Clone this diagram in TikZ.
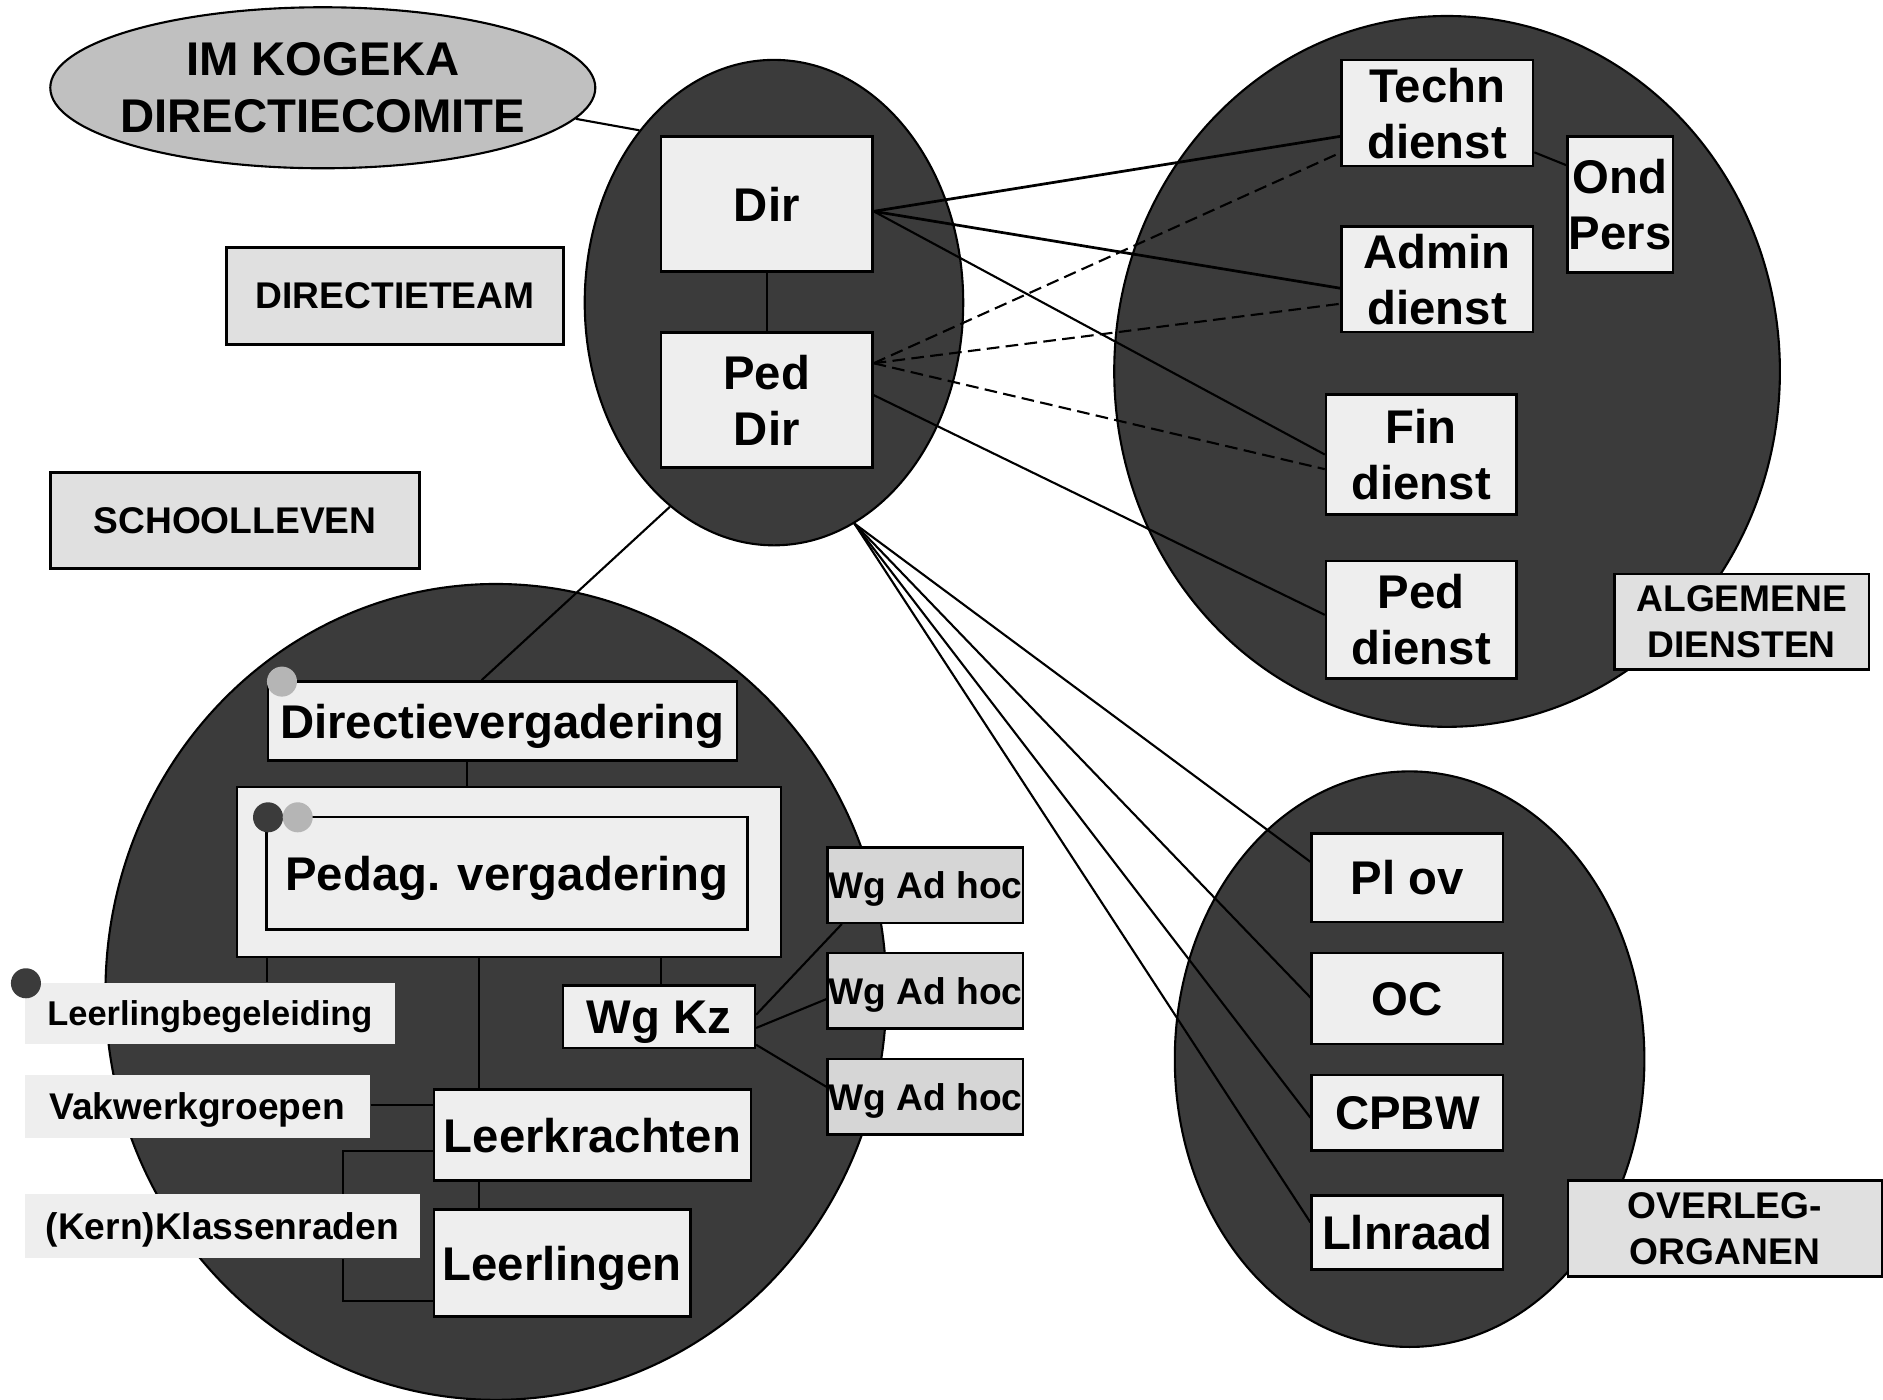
\documentclass[tikz,border=0pt]{standalone}
\usepackage{fontspec}
\setmainfont{Liberation Sans}
\usetikzlibrary{shapes.geometric}

\definecolor{grpdark}{RGB}{59,59,59}
\definecolor{boxlight}{RGB}{238,238,238}
\definecolor{taggray}{RGB}{224,224,224}
\definecolor{adhocgray}{RGB}{214,214,214}
\definecolor{kogekagray}{RGB}{192,192,192}
\definecolor{dotgray}{RGB}{181,181,181}

\newcommand\unitfont{\fontsize{11.2}{13.3}\selectfont\bfseries}
\newcommand\tagfont{\fontsize{8.8}{10.9}\selectfont\bfseries}
\newcommand\narrowtagfont{\fontsize{8.15}{10}\selectfont\bfseries}

\begin{document}
\begin{tikzpicture}[x=0.01cm, y=-0.01cm,
      group/.style={ellipse, draw, fill=grpdark, line width=0.5pt, inner sep=0pt},
      unitbox/.style={rectangle, draw, fill=boxlight, line width=0.6pt,
        inner sep=0pt, align=center, text depth=0pt, font=\unitfont},
      subbox/.style={rectangle, fill=boxlight, inner sep=0pt, text depth=0pt, font=\tagfont},
      adhocbox/.style={rectangle, draw, fill=adhocgray, line width=0.6pt, inner sep=0pt,
        text depth=0pt, minimum width=1.628cm, minimum height=0.628cm, font=\tagfont},
      tagbox/.style={rectangle, draw, fill=taggray, line width=0.6pt, inner sep=0pt,
        align=center, text depth=0pt, font=\tagfont},
      dotdark/.style={circle, fill=grpdark, inner sep=0pt, minimum size=0.25cm},
      dotlight/.style={circle, fill=dotgray, inner sep=0pt, minimum size=0.25cm},
      link/.style={line width=0.5pt},
      dirlink/.style={line width=0.65pt},
      dashlink/.style={line width=0.5pt, dash pattern=on 3pt off 1.5pt}]

    \useasboundingbox (0,0) rectangle (1568,1165);

    \node[group, fill=kogekagray, minimum width=4.536cm, minimum height=1.34cm,
      label={[align=center, font=\unitfont]center:IM KOGEKA\\DIRECTIECOMITE}] (kogeka) at (268.8,73.1) {};
    \node[group, minimum width=3.15cm, minimum height=4.04cm] (dirgroup) at (644.5,252) {};
    \node[group, minimum width=5.54cm, minimum height=5.916cm] (algemgroup) at (1205,309.3) {};
    \node[group, minimum width=3.908cm, minimum height=4.79cm] (overleggroup) at (1173.8,882) {};
    \node[group, minimum width=6.5cm, minimum height=6.79cm] (schoolgroup) at (413,826) {};

    \node[tagbox, minimum width=2.803cm, minimum height=0.805cm] (dirteam) at (329,246.5) {DIRECTIETEAM};
    \node[tagbox, minimum width=3.07cm, minimum height=0.799cm] (schoolleven) at (195.7,433.3) {SCHOOLLEVEN};
    \node[tagbox, minimum width=2.121cm, minimum height=0.794cm] (algemene) at (1450.4,517.7) {ALGEMENE\\DIENSTEN};
    \node[tagbox, minimum width=2.613cm, minimum height=0.798cm] (overleg) at (1436.4,1022.9) {OVERLEG-\\ORGANEN};

    \node[unitbox, minimum width=1.758cm, minimum height=1.124cm] (dir) at (638.5,170) {Dir};
    \node[unitbox, minimum width=1.758cm, minimum height=1.125cm] (peddir) at (638.5,333.2) {Ped\\Dir};

    \node[unitbox, minimum width=1.596cm, minimum height=0.884cm] (techn) at (1196.8,94.2) {Techn\\dienst};
    \node[unitbox, minimum width=1.596cm, minimum height=0.879cm] (admin) at (1196.8,232.5) {Admin\\dienst};
    \node[unitbox, minimum width=0.878cm, minimum height=1.131cm] (ondpers) at (1349.1,170.2) {Ond\\Pers};
    \node[unitbox, minimum width=1.585cm, minimum height=0.998cm] (fin) at (1183.5,378.3) {Fin\\dienst};
    \node[unitbox, minimum width=1.585cm, minimum height=0.978cm] (peddienst) at (1183.5,516.1) {Ped\\dienst};

    \node[unitbox, minimum width=1.593cm, minimum height=0.74cm] (plov) at (1172,730.9) {Pl ov};
    \node[unitbox, minimum width=1.593cm, minimum height=0.757cm] (oc) at (1172,831.6) {OC};
    \node[unitbox, minimum width=1.593cm, minimum height=0.628cm] (cpbw) at (1172,926.6) {CPBW};
    \node[unitbox, minimum width=1.593cm, minimum height=0.617cm] (llnraad) at (1172,1026.2) {Llnraad};

    \node[unitbox, minimum width=3.903cm, minimum height=0.659cm] (dirverg) at (418.3,600.5) {Directievergadering};
    \node[unitbox, minimum width=4.528cm, minimum height=1.416cm] (pedagout) at (423.8,726.1) {};
    \node[unitbox, minimum width=4.003cm, minimum height=0.936cm] (pedagin) at (422.2,727) {Pedag. vergadering};
    \node[unitbox, minimum width=2.637cm, minimum height=0.758cm] (leerkr) at (493.3,945.3) {Leerkrachten};
    \node[unitbox, minimum width=2.136cm, minimum height=0.891cm] (leerl) at (468.2,1051.8) {Leerlingen};
    \node[unitbox, minimum width=1.595cm, minimum height=0.521cm] (wgkz) at (548.8,846.7) {Wg Kz};

    \node[subbox, font=\narrowtagfont, minimum width=3.084cm, minimum height=0.512cm] (leerbeg) at (174.8,843.9) {Leerlingbegeleiding};
    \node[subbox, minimum width=2.872cm, minimum height=0.525cm] (vakwerk) at (164.2,921.3) {Vakwerkgroepen};
    \node[subbox, minimum width=3.29cm, minimum height=0.53cm] (klassen) at (185.1,1021.2) {(Kern)Klassenraden};

    \node[adhocbox] (adhoc1) at (770.6,737) {Wg Ad hoc};
    \node[adhocbox] (adhoc2) at (770.6,825) {Wg Ad hoc};
    \node[adhocbox] (adhoc3) at (770.6,913.2) {Wg Ad hoc};

    \node[dotlight] (dvdot) at (234.8,567.6) {};
    \node[dotdark] (pvdotdark) at (223.2,680.6) {};
    \node[dotlight] (pvdotlight) at (247.9,680.6) {};
    \node[dotdark] (lbdot) at (21.6,818.8) {};

    \draw[link] (kogeka.-7) -- (dirgroup.128);
    \draw[link] (dir) -- (peddir);

    \draw[dirlink] (dir.east |- 0,176) -- (techn.west |- 0,113.6);
    \draw[dirlink] (dir.east |- 0,176) -- (admin.west |- 0,240);
    \draw[link]    (dir.east |- 0,176) -- (fin.west |- 0,378.5);
    \draw[link]    (peddir.east |- 0,329) -- (peddienst.west |- 0,512);

    \draw[dashlink] (peddir.east |- 0,302.5) -- (techn.west |- 0,127.3);
    \draw[dashlink] (peddir.east |- 0,302.5) -- (admin.west |- 0,253);
    \draw[dashlink] (peddir.east |- 0,302.5) -- (fin.west |- 0,390.7);

    \draw[link] (techn.-22) -- (ondpers.144);

    \draw[link] (dirgroup.-70) -- (plov.west |- 0,717.7);
    \draw[link] (dirgroup.-70) -- (oc.west |- 0,830.7);
    \draw[link] (dirgroup.-70) -- (cpbw.west |- 0,930.8);
    \draw[link] (dirgroup.-70) -- (llnraad.west |- 0,1018);

    \draw[link] (dirgroup.243) -- (dirverg.117);
    \draw[link] (dirverg.south -| 389,0) -- (pedagout.north -| 389,0);
    \draw[link] (pedagout.south -| 222,0) -- (leerbeg.north -| 222,0);
    \draw[link] (pedagout.south -| 399,0) -- (leerkr.north -| 399,0);
    \draw[link] (pedagout.south -| 550.5,0) -- (wgkz.north -| 550.5,0);
    \draw[link] (leerkr.south -| 399,0) -- (leerl.north -| 399,0);
    \draw[link] (vakwerk.east |- 0,920) -- (leerkr.west |- 0,920);
    \draw[link] (leerkr.west |- 0,958.5) -| (klassen.north -| 285.3,0);
    \draw[link] (klassen.south -| 285.3,0) |- (leerl.west |- 0,1083.4);

    \draw[link] (wgkz.east |- 0,845) -- (adhoc1.south -| 701,0);
    \draw[link] (wgkz.east |- 0,856) -- (adhoc2.west |- 0,832);
    \draw[link] (wgkz.east |- 0,870) -- (adhoc3.west |- 0,905);

  \end{tikzpicture}
\end{document}
